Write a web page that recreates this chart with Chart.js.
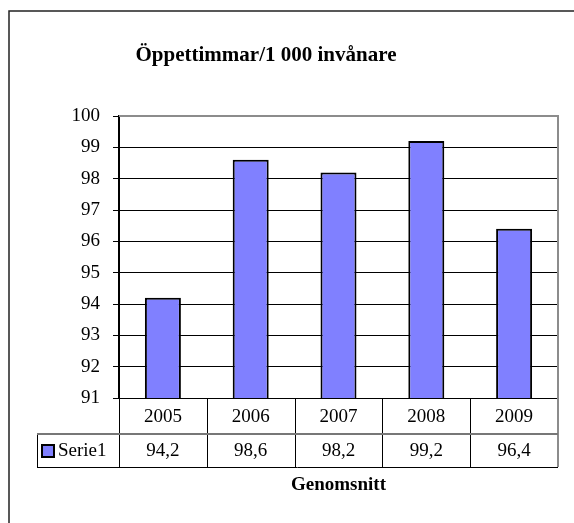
<!DOCTYPE html>
<html>
<head>
<meta charset="utf-8">
<script src="https://cdn.jsdelivr.net/npm/chart.js@4/dist/chart.umd.min.js"></script>
<style>
    body { margin: 0; background: #fff; }
    #wrap { width: 574px; height: 523px; }
</style>
</head>
<body>
<div id="wrap"><canvas id="chartBar" width="574" height="523"></canvas></div>
<script>
// data
var titleText = 'Öppettimmar/1 000 invånare';
var axisTitle = 'Genomsnitt';
var seriesName = 'Serie1';
var categories = ['2005', '2006', '2007', '2008', '2009'];
var values = [94.2, 98.6, 98.2, 99.2, 96.4];
var yMin = 91;
var yMax = 100;

var barColor = '#8080FF';
var serif = '"Liberation Serif", "Times New Roman", serif';

function fmt(v) {
    return v.toFixed(1).replace('.', ',');
}

// frame, title, plot border and data table
var tablePlugin = {
    id: 'excelTable',
    afterDraw: function (chart) {
        var ctx = chart.ctx;
        var area = chart.chartArea;
        var xs = chart.scales.x;
        var colW = (area.right - area.left) / categories.length;
        var row1 = area.bottom + 36;
        var row2 = row1 + 33;
        var legLeft = 37;

        ctx.save();

        // outer frame (left + top only visible)
        ctx.strokeStyle = '#222';
        ctx.lineWidth = 1.5;
        ctx.beginPath();
        ctx.moveTo(9, 600);
        ctx.lineTo(9, 11);
        ctx.lineTo(600, 11);
        ctx.stroke();

        // title
        ctx.fillStyle = '#000';
        ctx.font = 'bold 21px ' + serif;
        ctx.textAlign = 'center';
        ctx.textBaseline = 'alphabetic';
        ctx.fillText(titleText, 266, 61);

        // plot top / right border
        ctx.lineWidth = 2;
        ctx.strokeStyle = '#8c8c8c';
        ctx.beginPath();
        ctx.moveTo(area.left, area.top);
        ctx.lineTo(area.right, area.top);
        ctx.lineTo(area.right, row2);
        ctx.stroke();

        // table lines
        ctx.lineWidth = 1;
        ctx.strokeStyle = '#000';
        ctx.beginPath();
        for (var i = 0; i < categories.length; i++) {
            var lx = Math.round(area.left + i * colW) + 0.5;
            ctx.moveTo(lx, area.bottom);
            ctx.lineTo(lx, row2);
        }
        ctx.moveTo(legLeft + 0.5, row1);
        ctx.lineTo(legLeft + 0.5, row2);
        ctx.moveTo(legLeft, row2 + 0.5);
        ctx.lineTo(area.right, row2 + 0.5);
        ctx.stroke();

        ctx.strokeStyle = '#777';
        ctx.lineWidth = 2;
        ctx.beginPath();
        ctx.moveTo(legLeft, row1);
        ctx.lineTo(area.right, row1);
        ctx.stroke();

        // table text
        ctx.fillStyle = '#000';
        ctx.font = '19px ' + serif;
        ctx.textAlign = 'center';
        ctx.textBaseline = 'middle';
        for (var j = 0; j < categories.length; j++) {
            var cx = xs.getPixelForValue(j);
            ctx.fillText(categories[j], cx, (area.bottom + row1) / 2 + 1);
            ctx.fillText(fmt(values[j]), cx, (row1 + row2) / 2 + 1);
        }

        // legend key
        ctx.fillStyle = barColor;
        ctx.fillRect(42, 445, 12, 12);
        ctx.strokeStyle = '#000';
        ctx.lineWidth = 2;
        ctx.strokeRect(42, 445, 12, 12);
        ctx.fillStyle = '#000';
        ctx.textAlign = 'left';
        ctx.fillText(seriesName, 58, (row1 + row2) / 2 + 1);

        // axis title
        ctx.font = 'bold 19px ' + serif;
        ctx.textAlign = 'center';
        ctx.fillText(axisTitle, (area.left + area.right) / 2, 485);

        ctx.restore();
    }
};

var ctxBar = document.getElementById('chartBar').getContext('2d');
var chartBar = new Chart(ctxBar, {
    type: 'bar',
    data: {
        labels: categories,
        datasets: [{
            label: seriesName,
            data: values,
            backgroundColor: barColor,
            borderColor: '#000',
            borderWidth: 2,
            borderSkipped: false,
            barPercentage: 0.41,
            categoryPercentage: 1
        }]
    },
    options: {
        responsive: false,
        animation: false,
        layout: {
            padding: { left: 0, top: 116, right: 16, bottom: 125 }
        },
        plugins: {
            legend: { display: false },
            title: { display: false },
            tooltip: { enabled: false }
        },
        scales: {
            x: {
                display: false,
                offset: true
            },
            y: {
                min: yMin,
                max: yMax,
                afterFit: function (scale) {
                    scale.width = 119;
                },
                ticks: {
                    stepSize: 1,
                    padding: 13,
                    color: '#000',
                    font: { family: serif, size: 19 }
                },
                grid: {
                    color: function (c) {
                        return c.tick && c.tick.value === yMax ? '#8c8c8c' : '#000';
                    },
                    lineWidth: 1,
                    tickLength: 6,
                    tickColor: '#000'
                },
                border: { color: '#000', width: 2 }
            }
        }
    },
    plugins: [tablePlugin]
});
</script>
</body>
</html>
